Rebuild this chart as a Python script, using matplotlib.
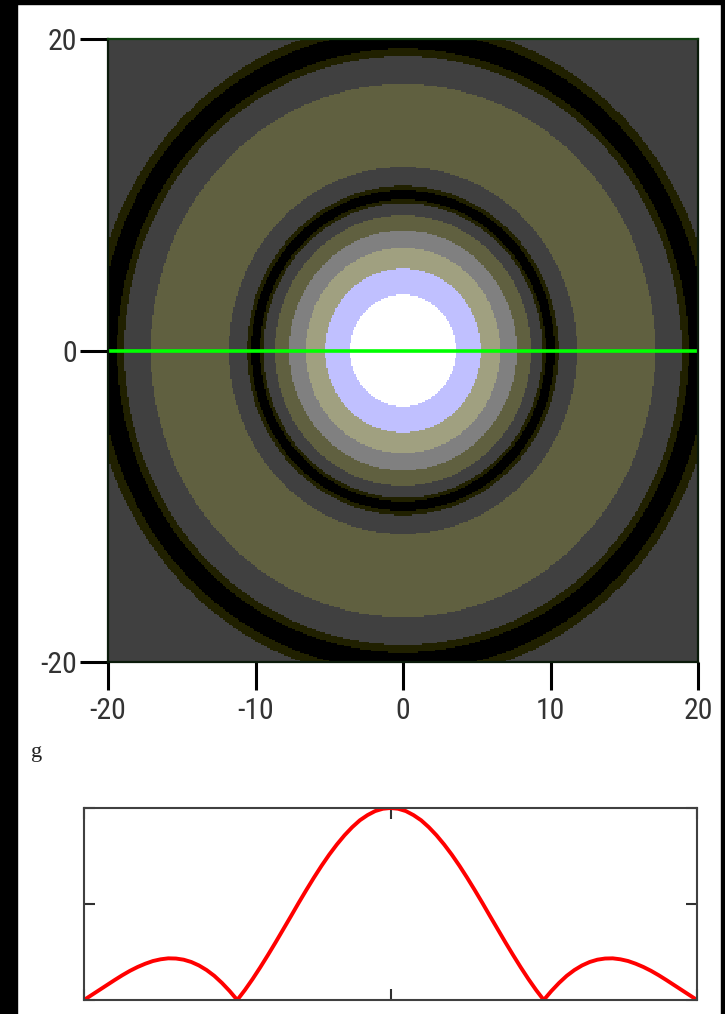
import numpy as np
import matplotlib
matplotlib.use("Agg")
import matplotlib.pyplot as plt
from matplotlib import font_manager
from matplotlib.colors import ListedColormap, BoundaryNorm
from matplotlib.patches import Rectangle

# ---------------- data ----------------
# radial profile g(r) read at r = 0, 0.5, 1, ... 29
radius = [i * 0.5 for i in range(59)]
profile = [1.000, 0.996, 0.984, 0.963, 0.936, 0.900, 0.858, 0.810, 0.757, 0.699,
           0.637, 0.572, 0.505, 0.436, 0.368, 0.300, 0.234, 0.170, 0.109, 0.052,
           0.000, 0.047, 0.089, 0.126, 0.156, 0.180, 0.198, 0.210, 0.216, 0.217,
           0.212, 0.203, 0.189, 0.172, 0.152, 0.129, 0.104, 0.078, 0.052, 0.026,
           0.000, 0.024, 0.047, 0.067, 0.085, 0.100, 0.112, 0.121, 0.126, 0.128,
           0.127, 0.123, 0.116, 0.107, 0.095, 0.082, 0.067, 0.051, 0.034]
levels = [0.0, 0.03, 0.055, 0.145, 0.27, 0.42, 0.60, 0.80, 1.01]
level_colors = ['#000000', '#202000', '#404040', '#606040', '#808080',
                '#a0a080', '#c0c0ff', '#ffffff']
xy_range = [-20, 20]
top_ticks = [-20, -10, 0, 10, 20]
top_yticks = [-20, 0, 20]
g_xticks = [-20, 0, 20]
g_yticks = [0, 0.5, 1.0]
cut_y = 0

# ---------------- fonts ----------------
names = {f.name for f in font_manager.fontManager.ttflist}
tick_font = dict(family='DejaVu Sans', stretch='condensed')
for cand in ['Liberation Sans Narrow', 'Roboto Condensed', 'Open Sans Condensed',
             'Noto Sans Condensed']:
    if cand in names:
        tick_font = dict(family=cand)
        break

W, H = 725, 1014
fig = plt.figure(figsize=(W / 100, H / 100), dpi=100)
fig.patch.set_facecolor('white')

def px_axes(l, t, r, b):
    return fig.add_axes([l / W, 1 - b / H, (r - l) / W, (b - t) / H])

# black screen border
fig.patches.append(Rectangle((0, 0), 17 / W, 1, transform=fig.transFigure,
                             color='black', zorder=-5))
fig.patches.append(Rectangle((0, 1 - 4 / H), 1, 4 / H, transform=fig.transFigure,
                             color='black', zorder=-5))
fig.patches.append(Rectangle((1 - 4 / W, 0), 4 / W, 1, transform=fig.transFigure,
                             color='black', zorder=-5))

# ---------------- top: density plot ----------------
ax = px_axes(108, 39, 698, 662)
n = 400
xs = np.linspace(xy_range[0], xy_range[1], n)
X, Y = np.meshgrid(xs, xs)
R = np.sqrt(X ** 2 + Y ** 2)
Z = np.interp(R, radius, profile)
cmap = ListedColormap(level_colors)
norm = BoundaryNorm(levels, cmap.N)
ax.imshow(Z, cmap=cmap, norm=norm, origin='lower', aspect='auto',
          extent=[xy_range[0], xy_range[1], xy_range[0], xy_range[1]],
          interpolation='nearest')
ax.plot(xy_range, [cut_y, cut_y], color='#00ff00', lw=2.6, solid_capstyle='butt')
ax.set_xlim(xy_range)
ax.set_ylim(xy_range)
ax.set_xticks(top_ticks)
ax.set_yticks(top_yticks)
ax.set_xticklabels([str(t) for t in top_ticks], fontsize=21.5, color='#333333', **tick_font)
ax.set_yticklabels([str(t) for t in top_yticks], fontsize=21.5, color='#333333', **tick_font)
ax.tick_params(direction='out', length=20, width=2.2, color='black', pad=2)
ax.tick_params(axis='x', pad=5)
for s in ax.spines.values():
    s.set_color('#0a1a0a')
    s.set_linewidth(1.6)
ax.spines['top'].set_color('#104010')

# ---------------- label g ----------------
fig.text(37 / W, 1 - 752 / H, 'g', fontsize=16, family='Liberation Serif',
         ha='center', va='center', color='#222222')

# ---------------- bottom: profile along y = 0 ----------------
bx = px_axes(84, 808, 697, 1000)
gx = [-r for r in radius[40::-1]] + radius[1:41]
gy = profile[40::-1] + profile[1:41]
bx.plot(gx, gy, color='#ff0000', lw=2.8, solid_joinstyle='round')
bx.set_xlim(-20, 20)
bx.set_ylim(0, 1)
bx.set_xticks(g_xticks)
bx.set_yticks(g_yticks)
bx.tick_params(direction='in', length=8, width=1.5, color='#303030',
               labelbottom=False, labelleft=False,
               top=True, right=True)
for s in bx.spines.values():
    s.set_color('#404040')
    s.set_linewidth(1.5)

fig.savefig('out.png', dpi=100, facecolor='white')
